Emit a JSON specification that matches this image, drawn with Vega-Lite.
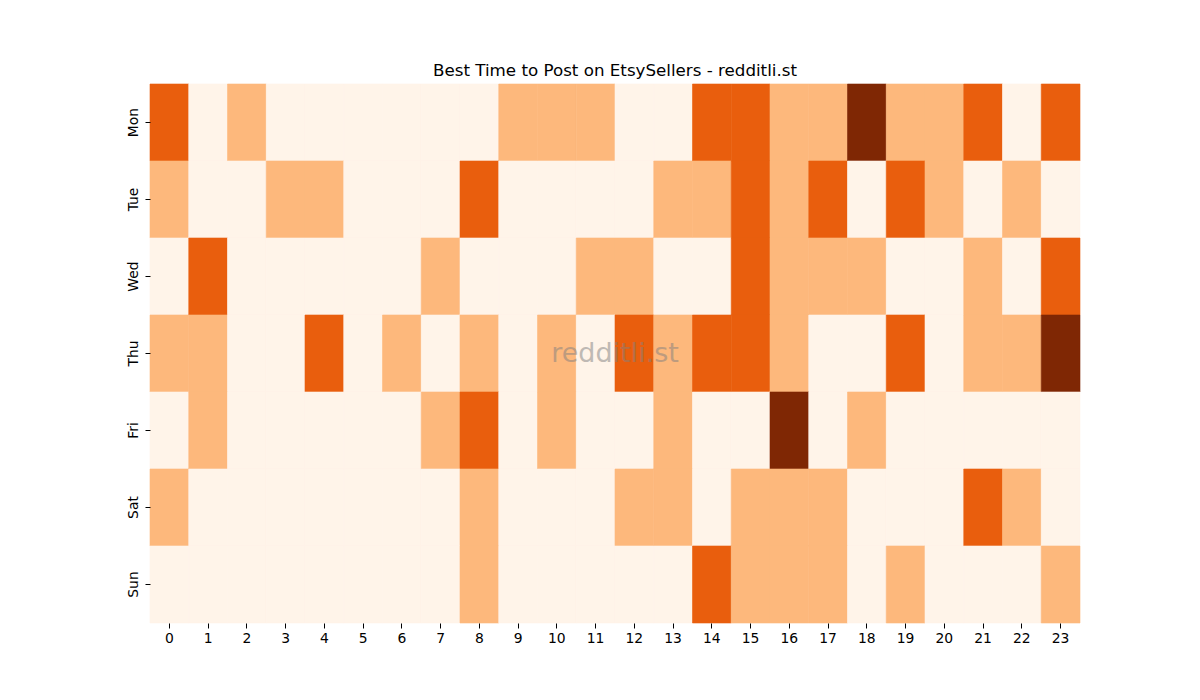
{
  "$schema": "https://vega.github.io/schema/vega-lite/v6.json",
  "width": 930,
  "height": 539,
  "autosize": {"type": "none"},
  "padding": {"left": 150, "top": 84, "right": 120, "bottom": 77},
  "background": "white",
  "title": {"text": "Best Time to Post on EtsySellers - redditli.st", "font": "DejaVu Sans", "fontSize": 16.7, "fontWeight": "normal", "color": "black", "offset": 4, "anchor": "middle"},
  "config": {"view": {"stroke": null}},
  "layer": [
    {
      "data": {"values": [
        {"day":"Mon","hour":0,"level":2},{"day":"Mon","hour":1,"level":0},{"day":"Mon","hour":2,"level":1},{"day":"Mon","hour":3,"level":0},{"day":"Mon","hour":4,"level":0},{"day":"Mon","hour":5,"level":0},{"day":"Mon","hour":6,"level":0},{"day":"Mon","hour":7,"level":0},{"day":"Mon","hour":8,"level":0},{"day":"Mon","hour":9,"level":1},{"day":"Mon","hour":10,"level":1},{"day":"Mon","hour":11,"level":1},{"day":"Mon","hour":12,"level":0},{"day":"Mon","hour":13,"level":0},{"day":"Mon","hour":14,"level":2},{"day":"Mon","hour":15,"level":2},{"day":"Mon","hour":16,"level":1},{"day":"Mon","hour":17,"level":1},{"day":"Mon","hour":18,"level":3},{"day":"Mon","hour":19,"level":1},{"day":"Mon","hour":20,"level":1},{"day":"Mon","hour":21,"level":2},{"day":"Mon","hour":22,"level":0},{"day":"Mon","hour":23,"level":2},
        {"day":"Tue","hour":0,"level":1},{"day":"Tue","hour":1,"level":0},{"day":"Tue","hour":2,"level":0},{"day":"Tue","hour":3,"level":1},{"day":"Tue","hour":4,"level":1},{"day":"Tue","hour":5,"level":0},{"day":"Tue","hour":6,"level":0},{"day":"Tue","hour":7,"level":0},{"day":"Tue","hour":8,"level":2},{"day":"Tue","hour":9,"level":0},{"day":"Tue","hour":10,"level":0},{"day":"Tue","hour":11,"level":0},{"day":"Tue","hour":12,"level":0},{"day":"Tue","hour":13,"level":1},{"day":"Tue","hour":14,"level":1},{"day":"Tue","hour":15,"level":2},{"day":"Tue","hour":16,"level":1},{"day":"Tue","hour":17,"level":2},{"day":"Tue","hour":18,"level":0},{"day":"Tue","hour":19,"level":2},{"day":"Tue","hour":20,"level":1},{"day":"Tue","hour":21,"level":0},{"day":"Tue","hour":22,"level":1},{"day":"Tue","hour":23,"level":0},
        {"day":"Wed","hour":0,"level":0},{"day":"Wed","hour":1,"level":2},{"day":"Wed","hour":2,"level":0},{"day":"Wed","hour":3,"level":0},{"day":"Wed","hour":4,"level":0},{"day":"Wed","hour":5,"level":0},{"day":"Wed","hour":6,"level":0},{"day":"Wed","hour":7,"level":1},{"day":"Wed","hour":8,"level":0},{"day":"Wed","hour":9,"level":0},{"day":"Wed","hour":10,"level":0},{"day":"Wed","hour":11,"level":1},{"day":"Wed","hour":12,"level":1},{"day":"Wed","hour":13,"level":0},{"day":"Wed","hour":14,"level":0},{"day":"Wed","hour":15,"level":2},{"day":"Wed","hour":16,"level":1},{"day":"Wed","hour":17,"level":1},{"day":"Wed","hour":18,"level":1},{"day":"Wed","hour":19,"level":0},{"day":"Wed","hour":20,"level":0},{"day":"Wed","hour":21,"level":1},{"day":"Wed","hour":22,"level":0},{"day":"Wed","hour":23,"level":2},
        {"day":"Thu","hour":0,"level":1},{"day":"Thu","hour":1,"level":1},{"day":"Thu","hour":2,"level":0},{"day":"Thu","hour":3,"level":0},{"day":"Thu","hour":4,"level":2},{"day":"Thu","hour":5,"level":0},{"day":"Thu","hour":6,"level":1},{"day":"Thu","hour":7,"level":0},{"day":"Thu","hour":8,"level":1},{"day":"Thu","hour":9,"level":0},{"day":"Thu","hour":10,"level":1},{"day":"Thu","hour":11,"level":0},{"day":"Thu","hour":12,"level":2},{"day":"Thu","hour":13,"level":1},{"day":"Thu","hour":14,"level":2},{"day":"Thu","hour":15,"level":2},{"day":"Thu","hour":16,"level":1},{"day":"Thu","hour":17,"level":0},{"day":"Thu","hour":18,"level":0},{"day":"Thu","hour":19,"level":2},{"day":"Thu","hour":20,"level":0},{"day":"Thu","hour":21,"level":1},{"day":"Thu","hour":22,"level":1},{"day":"Thu","hour":23,"level":3},
        {"day":"Fri","hour":0,"level":0},{"day":"Fri","hour":1,"level":1},{"day":"Fri","hour":2,"level":0},{"day":"Fri","hour":3,"level":0},{"day":"Fri","hour":4,"level":0},{"day":"Fri","hour":5,"level":0},{"day":"Fri","hour":6,"level":0},{"day":"Fri","hour":7,"level":1},{"day":"Fri","hour":8,"level":2},{"day":"Fri","hour":9,"level":0},{"day":"Fri","hour":10,"level":1},{"day":"Fri","hour":11,"level":0},{"day":"Fri","hour":12,"level":0},{"day":"Fri","hour":13,"level":1},{"day":"Fri","hour":14,"level":0},{"day":"Fri","hour":15,"level":0},{"day":"Fri","hour":16,"level":3},{"day":"Fri","hour":17,"level":0},{"day":"Fri","hour":18,"level":1},{"day":"Fri","hour":19,"level":0},{"day":"Fri","hour":20,"level":0},{"day":"Fri","hour":21,"level":0},{"day":"Fri","hour":22,"level":0},{"day":"Fri","hour":23,"level":0},
        {"day":"Sat","hour":0,"level":1},{"day":"Sat","hour":1,"level":0},{"day":"Sat","hour":2,"level":0},{"day":"Sat","hour":3,"level":0},{"day":"Sat","hour":4,"level":0},{"day":"Sat","hour":5,"level":0},{"day":"Sat","hour":6,"level":0},{"day":"Sat","hour":7,"level":0},{"day":"Sat","hour":8,"level":1},{"day":"Sat","hour":9,"level":0},{"day":"Sat","hour":10,"level":0},{"day":"Sat","hour":11,"level":0},{"day":"Sat","hour":12,"level":1},{"day":"Sat","hour":13,"level":1},{"day":"Sat","hour":14,"level":0},{"day":"Sat","hour":15,"level":1},{"day":"Sat","hour":16,"level":1},{"day":"Sat","hour":17,"level":1},{"day":"Sat","hour":18,"level":0},{"day":"Sat","hour":19,"level":0},{"day":"Sat","hour":20,"level":0},{"day":"Sat","hour":21,"level":2},{"day":"Sat","hour":22,"level":1},{"day":"Sat","hour":23,"level":0},
        {"day":"Sun","hour":0,"level":0},{"day":"Sun","hour":1,"level":0},{"day":"Sun","hour":2,"level":0},{"day":"Sun","hour":3,"level":0},{"day":"Sun","hour":4,"level":0},{"day":"Sun","hour":5,"level":0},{"day":"Sun","hour":6,"level":0},{"day":"Sun","hour":7,"level":0},{"day":"Sun","hour":8,"level":1},{"day":"Sun","hour":9,"level":0},{"day":"Sun","hour":10,"level":0},{"day":"Sun","hour":11,"level":0},{"day":"Sun","hour":12,"level":0},{"day":"Sun","hour":13,"level":0},{"day":"Sun","hour":14,"level":2},{"day":"Sun","hour":15,"level":1},{"day":"Sun","hour":16,"level":1},{"day":"Sun","hour":17,"level":1},{"day":"Sun","hour":18,"level":0},{"day":"Sun","hour":19,"level":1},{"day":"Sun","hour":20,"level":0},{"day":"Sun","hour":21,"level":0},{"day":"Sun","hour":22,"level":0},{"day":"Sun","hour":23,"level":1}
      ]},
      "mark": {"type": "rect", "strokeWidth": 0.6},
      "encoding": {
        "x": {"field": "hour", "type": "ordinal", "scale": {"domain": [0,1,2,3,4,5,6,7,8,9,10,11,12,13,14,15,16,17,18,19,20,21,22,23], "paddingInner": 0, "paddingOuter": 0},
              "axis": {"title": null, "labelAngle": 0, "labelFont": "DejaVu Sans", "labelFontSize": 13.9, "labelColor": "black", "domain": false, "ticks": true, "tickColor": "black", "tickSize": 5, "labelPadding": 3, "grid": false}},
        "y": {"field": "day", "type": "ordinal", "scale": {"domain": ["Mon","Tue","Wed","Thu","Fri","Sat","Sun"], "paddingInner": 0, "paddingOuter": 0},
              "axis": {"title": null, "labelAngle": -90, "labelAlign": "center", "labelBaseline": "bottom", "labelFont": "DejaVu Sans", "labelFontSize": 13.9, "labelColor": "black", "domain": false, "ticks": true, "tickColor": "black", "tickSize": 5, "labelPadding": 5, "grid": false}},
        "color": {"field": "level", "type": "ordinal", "scale": {"domain": [0,1,2,3], "range": ["#fff4e9", "#fdb87c", "#e95e0d", "#7f2704"]}, "legend": null},
        "stroke": {"field": "level", "type": "ordinal", "scale": {"domain": [0,1,2,3], "range": ["#fff4e9", "#fdb87c", "#e95e0d", "#7f2704"]}, "legend": null}
      }
    },
    {
      "data": {"values": [{"label": "redditli.st", "hour": 12, "day": "Thu"}]},
      "mark": {"type": "text", "font": "DejaVu Sans", "fontSize": 27, "color": "#808080", "opacity": 0.5, "align": "center", "baseline": "middle"},
      "encoding": {
        "x": {"field": "hour", "type": "ordinal", "bandPosition": 0},
        "y": {"field": "day", "type": "ordinal", "bandPosition": 0.5},
        "text": {"field": "label"}
      }
    }
  ]
}
